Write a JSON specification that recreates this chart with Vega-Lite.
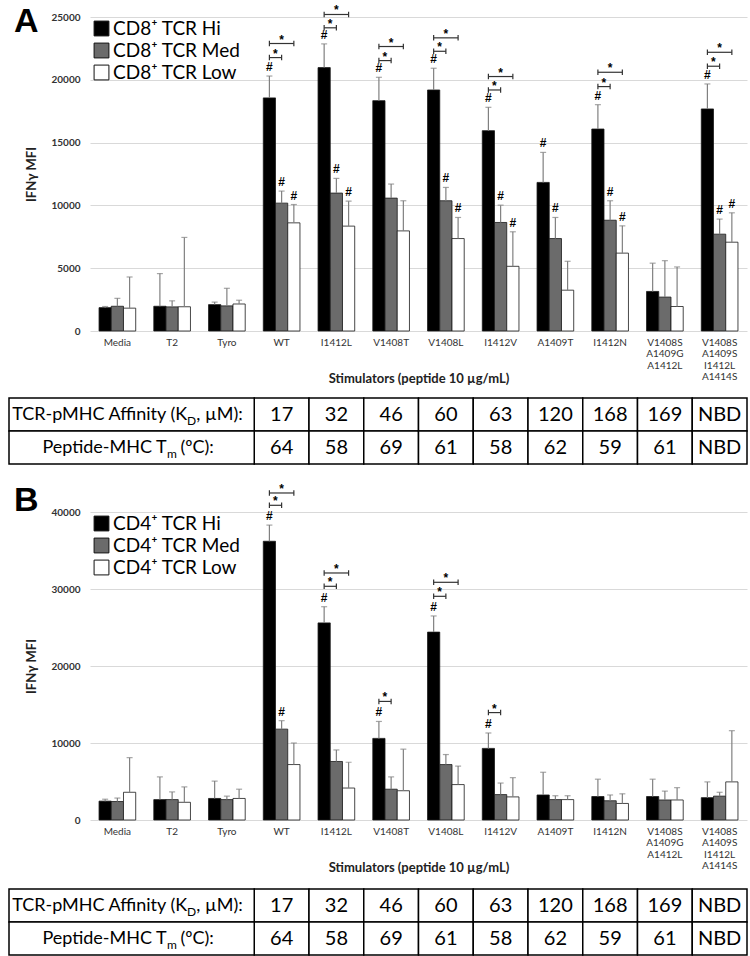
{
  "$schema": "https://vega.github.io/schema/vega-lite/v6.json",
  "background": "white",
  "padding": {"left": 8, "top": 4, "right": 0, "bottom": 0},
  "datasets": {
    "bars": [
      {"panel":"A","stim":"Media","grp":"Hi","mfi":1860,"err":1950,"h":0},
      {"panel":"A","stim":"Media","grp":"Med","mfi":1970,"err":2600,"h":0},
      {"panel":"A","stim":"Media","grp":"Low","mfi":1820,"err":4300,"h":0},
      {"panel":"A","stim":"T2","grp":"Hi","mfi":1970,"err":4570,"h":0},
      {"panel":"A","stim":"T2","grp":"Med","mfi":1920,"err":2400,"h":0},
      {"panel":"A","stim":"T2","grp":"Low","mfi":1930,"err":7450,"h":0},
      {"panel":"A","stim":"Tyro","grp":"Hi","mfi":2100,"err":2300,"h":0},
      {"panel":"A","stim":"Tyro","grp":"Med","mfi":2000,"err":3400,"h":0},
      {"panel":"A","stim":"Tyro","grp":"Low","mfi":2150,"err":2450,"h":0},
      {"panel":"A","stim":"WT","grp":"Hi","mfi":18560,"err":20300,"h":1},
      {"panel":"A","stim":"WT","grp":"Med","mfi":10180,"err":11140,"h":1},
      {"panel":"A","stim":"WT","grp":"Low","mfi":8610,"err":10070,"h":1},
      {"panel":"A","stim":"I1412L","grp":"Hi","mfi":20970,"err":22860,"h":1},
      {"panel":"A","stim":"I1412L","grp":"Med","mfi":10980,"err":12150,"h":1},
      {"panel":"A","stim":"I1412L","grp":"Low","mfi":8350,"err":10340,"h":1},
      {"panel":"A","stim":"V1408T","grp":"Hi","mfi":18340,"err":20200,"h":1},
      {"panel":"A","stim":"V1408T","grp":"Med","mfi":10580,"err":11700,"h":0},
      {"panel":"A","stim":"V1408T","grp":"Low","mfi":7970,"err":10370,"h":0},
      {"panel":"A","stim":"V1408L","grp":"Hi","mfi":19190,"err":20920,"h":1},
      {"panel":"A","stim":"V1408L","grp":"Med","mfi":10370,"err":11430,"h":1},
      {"panel":"A","stim":"V1408L","grp":"Low","mfi":7360,"err":9040,"h":1},
      {"panel":"A","stim":"I1412V","grp":"Hi","mfi":15950,"err":17810,"h":1},
      {"panel":"A","stim":"I1412V","grp":"Med","mfi":8640,"err":10020,"h":1},
      {"panel":"A","stim":"I1412V","grp":"Low","mfi":5150,"err":7900,"h":1},
      {"panel":"A","stim":"A1409T","grp":"Hi","mfi":11830,"err":14220,"h":1},
      {"panel":"A","stim":"A1409T","grp":"Med","mfi":7360,"err":9040,"h":1},
      {"panel":"A","stim":"A1409T","grp":"Low","mfi":3250,"err":5550,"h":0},
      {"panel":"A","stim":"I1412N","grp":"Hi","mfi":16080,"err":18020,"h":1},
      {"panel":"A","stim":"I1412N","grp":"Med","mfi":8820,"err":10370,"h":1},
      {"panel":"A","stim":"I1412N","grp":"Low","mfi":6200,"err":8370,"h":1},
      {"panel":"A","stim":"V1408S A1409G A1412L","grp":"Hi","mfi":3150,"err":5400,"h":0},
      {"panel":"A","stim":"V1408S A1409G A1412L","grp":"Med","mfi":2700,"err":5600,"h":0},
      {"panel":"A","stim":"V1408S A1409G A1412L","grp":"Low","mfi":1950,"err":5100,"h":0},
      {"panel":"A","stim":"V1408S A1409S I1412L A1414S","grp":"Hi","mfi":17680,"err":19670,"h":1},
      {"panel":"A","stim":"V1408S A1409S I1412L A1414S","grp":"Med","mfi":7710,"err":8910,"h":1},
      {"panel":"A","stim":"V1408S A1409S I1412L A1414S","grp":"Low","mfi":7070,"err":9410,"h":1},
      {"panel":"B","stim":"Media","grp":"Hi","mfi":2450,"err":2700,"h":0},
      {"panel":"B","stim":"Media","grp":"Med","mfi":2400,"err":2850,"h":0},
      {"panel":"B","stim":"Media","grp":"Low","mfi":3600,"err":8100,"h":0},
      {"panel":"B","stim":"T2","grp":"Hi","mfi":2650,"err":5600,"h":0},
      {"panel":"B","stim":"T2","grp":"Med","mfi":2650,"err":3650,"h":0},
      {"panel":"B","stim":"T2","grp":"Low","mfi":2300,"err":4300,"h":0},
      {"panel":"B","stim":"Tyro","grp":"Hi","mfi":2800,"err":5050,"h":0},
      {"panel":"B","stim":"Tyro","grp":"Med","mfi":2650,"err":3100,"h":0},
      {"panel":"B","stim":"Tyro","grp":"Low","mfi":2800,"err":4000,"h":0},
      {"panel":"B","stim":"WT","grp":"Hi","mfi":36200,"err":38300,"h":1},
      {"panel":"B","stim":"WT","grp":"Med","mfi":11800,"err":12900,"h":1},
      {"panel":"B","stim":"WT","grp":"Low","mfi":7200,"err":10000,"h":0},
      {"panel":"B","stim":"I1412L","grp":"Hi","mfi":25600,"err":27700,"h":1},
      {"panel":"B","stim":"I1412L","grp":"Med","mfi":7600,"err":9100,"h":0},
      {"panel":"B","stim":"I1412L","grp":"Low","mfi":4150,"err":7500,"h":0},
      {"panel":"B","stim":"V1408T","grp":"Hi","mfi":10600,"err":12800,"h":1},
      {"panel":"B","stim":"V1408T","grp":"Med","mfi":4000,"err":5600,"h":0},
      {"panel":"B","stim":"V1408T","grp":"Low","mfi":3800,"err":9200,"h":0},
      {"panel":"B","stim":"V1408L","grp":"Hi","mfi":24400,"err":26500,"h":1},
      {"panel":"B","stim":"V1408L","grp":"Med","mfi":7200,"err":8500,"h":0},
      {"panel":"B","stim":"V1408L","grp":"Low","mfi":4600,"err":7000,"h":0},
      {"panel":"B","stim":"I1412V","grp":"Hi","mfi":9300,"err":11300,"h":1},
      {"panel":"B","stim":"I1412V","grp":"Med","mfi":3300,"err":4800,"h":0},
      {"panel":"B","stim":"I1412V","grp":"Low","mfi":3000,"err":5500,"h":0},
      {"panel":"B","stim":"A1409T","grp":"Hi","mfi":3250,"err":6200,"h":0},
      {"panel":"B","stim":"A1409T","grp":"Med","mfi":2650,"err":3150,"h":0},
      {"panel":"B","stim":"A1409T","grp":"Low","mfi":2650,"err":3150,"h":0},
      {"panel":"B","stim":"I1412N","grp":"Hi","mfi":3050,"err":5300,"h":0},
      {"panel":"B","stim":"I1412N","grp":"Med","mfi":2500,"err":3250,"h":0},
      {"panel":"B","stim":"I1412N","grp":"Low","mfi":2150,"err":3400,"h":0},
      {"panel":"B","stim":"V1408S A1409G A1412L","grp":"Hi","mfi":3050,"err":5300,"h":0},
      {"panel":"B","stim":"V1408S A1409G A1412L","grp":"Med","mfi":2600,"err":3750,"h":0},
      {"panel":"B","stim":"V1408S A1409G A1412L","grp":"Low","mfi":2600,"err":4200,"h":0},
      {"panel":"B","stim":"V1408S A1409S I1412L A1414S","grp":"Hi","mfi":2900,"err":4950,"h":0},
      {"panel":"B","stim":"V1408S A1409S I1412L A1414S","grp":"Med","mfi":3100,"err":3600,"h":0},
      {"panel":"B","stim":"V1408S A1409S I1412L A1414S","grp":"Low","mfi":4950,"err":11600,"h":0}
    ],
    "br": [
      {"panel":"A","stim":"WT","kind":"s","from":"Hi","to":"Med","level":21770},
      {"panel":"A","stim":"WT","kind":"b","from":"Hi","to":"Low","level":22890},
      {"panel":"A","stim":"I1412L","kind":"s","from":"Hi","to":"Med","level":24140},
      {"panel":"A","stim":"I1412L","kind":"b","from":"Hi","to":"Low","level":25200},
      {"panel":"A","stim":"V1408T","kind":"s","from":"Hi","to":"Med","level":21530},
      {"panel":"A","stim":"V1408T","kind":"b","from":"Hi","to":"Low","level":22650},
      {"panel":"A","stim":"V1408L","kind":"s","from":"Hi","to":"Med","level":22270},
      {"panel":"A","stim":"V1408L","kind":"b","from":"Hi","to":"Low","level":23340},
      {"panel":"A","stim":"I1412V","kind":"s","from":"Hi","to":"Med","level":19190},
      {"panel":"A","stim":"I1412V","kind":"b","from":"Hi","to":"Low","level":20260},
      {"panel":"A","stim":"I1412N","kind":"s","from":"Hi","to":"Med","level":19460},
      {"panel":"A","stim":"I1412N","kind":"b","from":"Hi","to":"Low","level":20600},
      {"panel":"A","stim":"V1408S A1409S I1412L A1414S","kind":"s","from":"Hi","to":"Med","level":21080},
      {"panel":"A","stim":"V1408S A1409S I1412L A1414S","kind":"b","from":"Hi","to":"Low","level":22190},
      {"panel":"B","stim":"WT","kind":"s","from":"Hi","to":"Med","level":40870},
      {"panel":"B","stim":"WT","kind":"b","from":"Hi","to":"Low","level":42470},
      {"panel":"B","stim":"I1412L","kind":"s","from":"Hi","to":"Med","level":30350},
      {"panel":"B","stim":"I1412L","kind":"b","from":"Hi","to":"Low","level":32080},
      {"panel":"B","stim":"V1408T","kind":"s","from":"Hi","to":"Med","level":15400},
      {"panel":"B","stim":"V1408L","kind":"s","from":"Hi","to":"Med","level":29050},
      {"panel":"B","stim":"V1408L","kind":"b","from":"Hi","to":"Low","level":30870},
      {"panel":"B","stim":"I1412V","kind":"s","from":"Hi","to":"Med","level":13950}
    ],
    "table": [
      {"stim":"WT","row":"aff","v":"17"},{"stim":"WT","row":"tm","v":"64"},
      {"stim":"I1412L","row":"aff","v":"32"},{"stim":"I1412L","row":"tm","v":"58"},
      {"stim":"V1408T","row":"aff","v":"46"},{"stim":"V1408T","row":"tm","v":"69"},
      {"stim":"V1408L","row":"aff","v":"60"},{"stim":"V1408L","row":"tm","v":"61"},
      {"stim":"I1412V","row":"aff","v":"63"},{"stim":"I1412V","row":"tm","v":"58"},
      {"stim":"A1409T","row":"aff","v":"120"},{"stim":"A1409T","row":"tm","v":"62"},
      {"stim":"I1412N","row":"aff","v":"168"},{"stim":"I1412N","row":"tm","v":"59"},
      {"stim":"V1408S A1409G A1412L","row":"aff","v":"169"},{"stim":"V1408S A1409G A1412L","row":"tm","v":"61"},
      {"stim":"V1408S A1409S I1412L A1414S","row":"aff","v":"NBD"},{"stim":"V1408S A1409S I1412L A1414S","row":"tm","v":"NBD"}
    ]
  },
  "vconcat": [
    {
      "spacing": 11,
      "resolve": {"scale": {"x": "independent", "y": "independent"}},
      "vconcat": [
        {
          "width": 657, "height": 314,
          "title": {"text": "A", "anchor": "start", "frame": "bounds", "fontSize": 34, "fontWeight": "bold", "font": "Liberation Sans", "offset": -35, "dx": -12},
          "encoding": {
            "x": {"field": "stim", "type": "nominal", "scale": {"domain": ["Media","T2","Tyro","WT","I1412L","V1408T","V1408L","I1412V","A1409T","I1412N","V1408S A1409G A1412L","V1408S A1409S I1412L A1414S"], "paddingInner": 0.33, "paddingOuter": 0.165},
              "axis": {"title": "Stimulators (peptide 10 µg/mL)", "labelExpr": "split(datum.label, ' ')", "labelAngle": 0, "labelLineHeight": 11.5, "labelPadding": 6, "labelFontSize": 10, "labelColor": "#333", "ticks": false, "domain": false, "titleFontSize": 13, "titleFontWeight": "bold", "titleColor": "#222", "titlePadding": -9}},
            "xOffset": {"field": "grp", "type": "nominal", "scale": {"domain": ["Hi","Med","Low"], "paddingInner": 0, "paddingOuter": 0}}
          },
          "layer": [
            {
              "data": {"name": "bars"},
              "transform": [{"filter": "datum.panel == 'A'"}],
              "mark": {"type": "bar", "stroke": "#1a1a1a", "strokeWidth": 0.8},
              "encoding": {
                "y": {"field": "mfi", "type": "quantitative", "scale": {"domain": [0, 25000], "nice": false},
                  "axis": {"title": "IFNγ MFI", "values": [0,5000,10000,15000,20000,25000], "format": "d", "grid": true, "gridColor": "#d9d9d9", "domain": false, "ticks": false, "labelFontSize": 10, "labelFontWeight": "bold", "labelColor": "#333", "labelPadding": 10, "titleFontSize": 13, "titleFontWeight": "bold", "titleColor": "#222", "titlePadding": 12}},
                "fill": {"field": "grp", "type": "nominal", "scale": {"domain": ["Hi","Med","Low"], "range": ["#000000","#6b6b6b","#ffffff"]},
                  "legend": {"orient": "top-left", "offset": 2, "title": null, "labelExpr": "'CD8⁺ TCR ' + datum.label", "labelFontSize": 19, "labelColor": "#000", "symbolType": "square", "symbolSize": 220, "symbolStrokeColor": "#111", "symbolStrokeWidth": 1, "rowPadding": 2, "labelOffset": 2}}
              }
            },
            {
              "data": {"name": "bars"},
              "transform": [{"filter": "datum.panel == 'A'"}],
              "mark": {"type": "rule", "color": "#808080", "strokeWidth": 1.2},
              "encoding": {"y": {"field": "mfi", "type": "quantitative"}, "y2": {"field": "err"}}
            },
            {
              "data": {"name": "bars"},
              "transform": [{"filter": "datum.panel == 'A'"}],
              "mark": {"type": "tick", "color": "#808080", "thickness": 1.2, "size": 6},
              "encoding": {"y": {"field": "err", "type": "quantitative"}}
            },
            {
              "data": {"name": "bars"},
              "transform": [{"filter": "datum.panel == 'A' && datum.h == 1"}],
              "mark": {"type": "text", "baseline": "bottom", "dy": -2, "fontSize": 12, "fontWeight": "bold", "font": "Liberation Sans"},
              "encoding": {"y": {"field": "err", "type": "quantitative"}, "text": {"value": "#"}}
            },
            {
              "data": {"name": "br"},
              "transform": [{"filter": "datum.panel == 'A'"}, {"fold": ["from", "to"], "as": ["end", "g"]}],
              "mark": {"type": "line", "color": "#333", "strokeWidth": 1.2},
              "encoding": {"y": {"field": "level", "type": "quantitative"}, "xOffset": {"field": "g", "type": "nominal"}, "detail": [{"field": "stim"}, {"field": "kind"}]}
            },
            {
              "data": {"name": "br"},
              "transform": [{"filter": "datum.panel == 'A'"}, {"fold": ["from", "to"], "as": ["end", "g"]}],
              "mark": {"type": "point", "shape": "M0,-1V1", "size": 30, "filled": false, "color": "#333", "strokeWidth": 1.2, "opacity": 1},
              "encoding": {"y": {"field": "level", "type": "quantitative"}, "xOffset": {"field": "g", "type": "nominal"}}
            },
            {
              "data": {"name": "br"},
              "transform": [{"filter": "datum.panel == 'A' && datum.kind == 's'"}],
              "mark": {"type": "text", "baseline": "middle", "dy": -4, "dx": 6, "fontSize": 12, "fontWeight": "bold", "font": "Liberation Sans"},
              "encoding": {"y": {"field": "level", "type": "quantitative"}, "xOffset": {"field": "from", "type": "nominal"}, "text": {"value": "*"}}
            },
            {
              "data": {"name": "br"},
              "transform": [{"filter": "datum.panel == 'A' && datum.kind == 'b'"}],
              "mark": {"type": "text", "baseline": "middle", "dy": -4, "fontSize": 12, "fontWeight": "bold", "font": "Liberation Sans"},
              "encoding": {"y": {"field": "level", "type": "quantitative"}, "xOffset": {"datum": "Med"}, "text": {"value": "*"}}
            }
          ]
        },
        {
          "width": 657, "height": 66,
          "data": {"name": "table"},
          "encoding": {
            "x": {"field": "stim", "type": "nominal", "scale": {"domain": ["Media","T2","Tyro","WT","I1412L","V1408T","V1408L","I1412V","A1409T","I1412N","V1408S A1409G A1412L","V1408S A1409S I1412L A1414S"], "paddingInner": 0, "paddingOuter": 0}, "axis": null},
            "y": {"field": "row", "type": "nominal", "scale": {"domain": ["aff","tm"], "paddingInner": 0, "paddingOuter": 0}, "axis": null}
          },
          "layer": [
            {"mark": {"type": "rect", "fill": "white", "stroke": "black", "strokeWidth": 1.5}},
            {"mark": {"type": "text", "fontSize": 20, "font": "Lato", "color": "#000"}, "encoding": {"text": {"field": "v"}}},
            {"transform": [{"filter": "datum.stim == 'WT'"}],
             "mark": {"type": "rect", "fill": "white", "stroke": "black", "strokeWidth": 1.5, "xOffset": -81},
             "encoding": {"x": {"datum": "Media", "bandPosition": 0}, "x2": {"datum": "WT", "bandPosition": 0}}},
            {"transform": [{"filter": "datum.stim == 'WT' && datum.row == 'aff'"}],
             "mark": {"type": "text", "align": "right", "dx": -67, "fontSize": 18, "font": "Lato", "color": "#000"},
             "encoding": {"x": {"datum": "WT", "bandPosition": 0}, "text": {"value": "TCR-pMHC Affinity (K"}}},
            {"transform": [{"filter": "datum.stim == 'WT' && datum.row == 'aff'"}],
             "mark": {"type": "text", "align": "right", "dx": -58, "dy": 6, "fontSize": 12, "font": "Lato", "color": "#000"},
             "encoding": {"x": {"datum": "WT", "bandPosition": 0}, "text": {"value": "D"}}},
            {"transform": [{"filter": "datum.stim == 'WT' && datum.row == 'aff'"}],
             "mark": {"type": "text", "align": "right", "dx": -11.5, "fontSize": 18, "font": "Lato", "color": "#000"},
             "encoding": {"x": {"datum": "WT", "bandPosition": 0}, "text": {"value": ", µM):"}}},
            {"transform": [{"filter": "datum.stim == 'WT' && datum.row == 'tm'"}],
             "mark": {"type": "text", "align": "right", "dx": -87.5, "fontSize": 18, "font": "Lato", "color": "#000"},
             "encoding": {"x": {"datum": "WT", "bandPosition": 0}, "text": {"value": "Peptide-MHC T"}}},
            {"transform": [{"filter": "datum.stim == 'WT' && datum.row == 'tm'"}],
             "mark": {"type": "text", "align": "right", "dx": -77.5, "dy": 6, "fontSize": 12, "font": "Lato", "color": "#000"},
             "encoding": {"x": {"datum": "WT", "bandPosition": 0}, "text": {"value": "m"}}},
            {"transform": [{"filter": "datum.stim == 'WT' && datum.row == 'tm'"}],
             "mark": {"type": "text", "align": "right", "dx": -40.5, "fontSize": 18, "font": "Lato", "color": "#000"},
             "encoding": {"x": {"datum": "WT", "bandPosition": 0}, "text": {"value": " (ºC):"}}}
          ]
        }
      ]
    },
    {
      "spacing": 13,
      "resolve": {"scale": {"x": "independent", "y": "independent"}},
      "vconcat": [
        {
          "width": 657, "height": 308,
          "title": {"text": "B", "anchor": "start", "frame": "bounds", "fontSize": 34, "fontWeight": "bold", "font": "Liberation Sans", "offset": -35, "dx": -12},
          "encoding": {
            "x": {"field": "stim", "type": "nominal", "scale": {"domain": ["Media","T2","Tyro","WT","I1412L","V1408T","V1408L","I1412V","A1409T","I1412N","V1408S A1409G A1412L","V1408S A1409S I1412L A1414S"], "paddingInner": 0.33, "paddingOuter": 0.165},
              "axis": {"title": "Stimulators (peptide 10 µg/mL)", "labelExpr": "split(datum.label, ' ')", "labelAngle": 0, "labelLineHeight": 11.5, "labelPadding": 6, "labelFontSize": 10, "labelColor": "#333", "ticks": false, "domain": false, "titleFontSize": 13, "titleFontWeight": "bold", "titleColor": "#222", "titlePadding": -9}},
            "xOffset": {"field": "grp", "type": "nominal", "scale": {"domain": ["Hi","Med","Low"], "paddingInner": 0, "paddingOuter": 0}}
          },
          "layer": [
            {
              "data": {"name": "bars"},
              "transform": [{"filter": "datum.panel == 'B'"}],
              "mark": {"type": "bar", "stroke": "#1a1a1a", "strokeWidth": 0.8},
              "encoding": {
                "y": {"field": "mfi", "type": "quantitative", "scale": {"domain": [0, 40000], "nice": false},
                  "axis": {"title": "IFNγ MFI", "values": [0,5000,10000,15000,20000,25000,30000,35000,40000], "format": "d", "grid": true, "gridColor": "#d9d9d9", "domain": false, "ticks": false, "labelFontSize": 10, "labelFontWeight": "bold", "labelColor": "#333", "labelPadding": 10, "titleFontSize": 13, "titleFontWeight": "bold", "titleColor": "#222", "titlePadding": 12}},
                "fill": {"field": "grp", "type": "nominal", "scale": {"domain": ["Hi","Med","Low"], "range": ["#000000","#6b6b6b","#ffffff"]},
                  "legend": {"orient": "top-left", "offset": 2, "title": null, "labelExpr": "'CD4⁺ TCR ' + datum.label", "labelFontSize": 19, "labelColor": "#000", "symbolType": "square", "symbolSize": 220, "symbolStrokeColor": "#111", "symbolStrokeWidth": 1, "rowPadding": 2, "labelOffset": 2}}
              }
            },
            {
              "data": {"name": "bars"},
              "transform": [{"filter": "datum.panel == 'B'"}],
              "mark": {"type": "rule", "color": "#808080", "strokeWidth": 1.2},
              "encoding": {"y": {"field": "mfi", "type": "quantitative"}, "y2": {"field": "err"}}
            },
            {
              "data": {"name": "bars"},
              "transform": [{"filter": "datum.panel == 'B'"}],
              "mark": {"type": "tick", "color": "#808080", "thickness": 1.2, "size": 6},
              "encoding": {"y": {"field": "err", "type": "quantitative"}}
            },
            {
              "data": {"name": "bars"},
              "transform": [{"filter": "datum.panel == 'B' && datum.h == 1"}],
              "mark": {"type": "text", "baseline": "bottom", "dy": -2, "fontSize": 12, "fontWeight": "bold", "font": "Liberation Sans"},
              "encoding": {"y": {"field": "err", "type": "quantitative"}, "text": {"value": "#"}}
            },
            {
              "data": {"name": "br"},
              "transform": [{"filter": "datum.panel == 'B'"}, {"fold": ["from", "to"], "as": ["end", "g"]}],
              "mark": {"type": "line", "color": "#333", "strokeWidth": 1.2},
              "encoding": {"y": {"field": "level", "type": "quantitative"}, "xOffset": {"field": "g", "type": "nominal"}, "detail": [{"field": "stim"}, {"field": "kind"}]}
            },
            {
              "data": {"name": "br"},
              "transform": [{"filter": "datum.panel == 'B'"}, {"fold": ["from", "to"], "as": ["end", "g"]}],
              "mark": {"type": "point", "shape": "M0,-1V1", "size": 30, "filled": false, "color": "#333", "strokeWidth": 1.2, "opacity": 1},
              "encoding": {"y": {"field": "level", "type": "quantitative"}, "xOffset": {"field": "g", "type": "nominal"}}
            },
            {
              "data": {"name": "br"},
              "transform": [{"filter": "datum.panel == 'B' && datum.kind == 's'"}],
              "mark": {"type": "text", "baseline": "middle", "dy": -4, "dx": 6, "fontSize": 12, "fontWeight": "bold", "font": "Liberation Sans"},
              "encoding": {"y": {"field": "level", "type": "quantitative"}, "xOffset": {"field": "from", "type": "nominal"}, "text": {"value": "*"}}
            },
            {
              "data": {"name": "br"},
              "transform": [{"filter": "datum.panel == 'B' && datum.kind == 'b'"}],
              "mark": {"type": "text", "baseline": "middle", "dy": -4, "fontSize": 12, "fontWeight": "bold", "font": "Liberation Sans"},
              "encoding": {"y": {"field": "level", "type": "quantitative"}, "xOffset": {"datum": "Med"}, "text": {"value": "*"}}
            }
          ]
        },
        {
          "width": 657, "height": 66,
          "data": {"name": "table"},
          "encoding": {
            "x": {"field": "stim", "type": "nominal", "scale": {"domain": ["Media","T2","Tyro","WT","I1412L","V1408T","V1408L","I1412V","A1409T","I1412N","V1408S A1409G A1412L","V1408S A1409S I1412L A1414S"], "paddingInner": 0, "paddingOuter": 0}, "axis": null},
            "y": {"field": "row", "type": "nominal", "scale": {"domain": ["aff","tm"], "paddingInner": 0, "paddingOuter": 0}, "axis": null}
          },
          "layer": [
            {"mark": {"type": "rect", "fill": "white", "stroke": "black", "strokeWidth": 1.5}},
            {"mark": {"type": "text", "fontSize": 20, "font": "Lato", "color": "#000"}, "encoding": {"text": {"field": "v"}}},
            {"transform": [{"filter": "datum.stim == 'WT'"}],
             "mark": {"type": "rect", "fill": "white", "stroke": "black", "strokeWidth": 1.5, "xOffset": -81},
             "encoding": {"x": {"datum": "Media", "bandPosition": 0}, "x2": {"datum": "WT", "bandPosition": 0}}},
            {"transform": [{"filter": "datum.stim == 'WT' && datum.row == 'aff'"}],
             "mark": {"type": "text", "align": "right", "dx": -67, "fontSize": 18, "font": "Lato", "color": "#000"},
             "encoding": {"x": {"datum": "WT", "bandPosition": 0}, "text": {"value": "TCR-pMHC Affinity (K"}}},
            {"transform": [{"filter": "datum.stim == 'WT' && datum.row == 'aff'"}],
             "mark": {"type": "text", "align": "right", "dx": -58, "dy": 6, "fontSize": 12, "font": "Lato", "color": "#000"},
             "encoding": {"x": {"datum": "WT", "bandPosition": 0}, "text": {"value": "D"}}},
            {"transform": [{"filter": "datum.stim == 'WT' && datum.row == 'aff'"}],
             "mark": {"type": "text", "align": "right", "dx": -11.5, "fontSize": 18, "font": "Lato", "color": "#000"},
             "encoding": {"x": {"datum": "WT", "bandPosition": 0}, "text": {"value": ", µM):"}}},
            {"transform": [{"filter": "datum.stim == 'WT' && datum.row == 'tm'"}],
             "mark": {"type": "text", "align": "right", "dx": -87.5, "fontSize": 18, "font": "Lato", "color": "#000"},
             "encoding": {"x": {"datum": "WT", "bandPosition": 0}, "text": {"value": "Peptide-MHC T"}}},
            {"transform": [{"filter": "datum.stim == 'WT' && datum.row == 'tm'"}],
             "mark": {"type": "text", "align": "right", "dx": -77.5, "dy": 6, "fontSize": 12, "font": "Lato", "color": "#000"},
             "encoding": {"x": {"datum": "WT", "bandPosition": 0}, "text": {"value": "m"}}},
            {"transform": [{"filter": "datum.stim == 'WT' && datum.row == 'tm'"}],
             "mark": {"type": "text", "align": "right", "dx": -40.5, "fontSize": 18, "font": "Lato", "color": "#000"},
             "encoding": {"x": {"datum": "WT", "bandPosition": 0}, "text": {"value": " (ºC):"}}}
          ]
        }
      ]
    }
  ],
  "spacing": 17,
  "resolve": {"scale": {"x": "independent", "y": "independent", "fill": "independent", "xOffset": "independent"}, "legend": {"fill": "independent"}},
  "config": {
    "view": {"stroke": null},
    "font": "Lato",
    "axis": {"labelFont": "Lato", "titleFont": "Lato"},
    "legend": {"labelFont": "Lato"}
  }
}
